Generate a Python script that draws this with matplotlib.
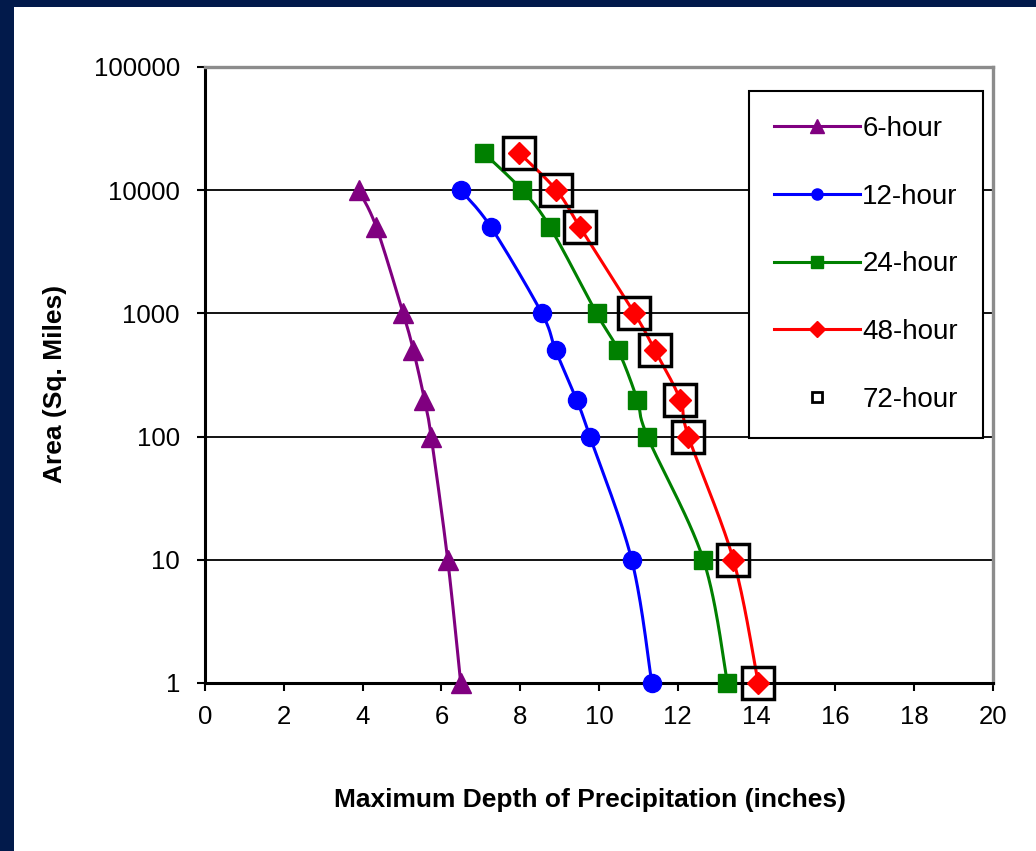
import numpy as np
import matplotlib
matplotlib.use("Agg")
import matplotlib.pyplot as plt
from matplotlib.lines import Line2D
from matplotlib.patches import Rectangle

plt.rcParams['font.family'] = ['Liberation Sans', 'DejaVu Sans']

# ---- data ----
areas_short = [10000, 5000, 1000, 500, 200, 100, 10, 1]
areas_long = [20000, 10000, 5000, 1000, 500, 200, 100, 10, 1]

depth_6h = [3.90, 4.35, 5.03, 5.29, 5.57, 5.74, 6.16, 6.49]
depth_12h = [6.49, 7.26, 8.55, 8.90, 9.43, 9.77, 10.83, 11.34]
depth_24h = [7.08, 8.05, 8.76, 9.94, 10.49, 10.97, 11.23, 12.65, 13.26]
depth_48h = [7.98, 8.92, 9.52, 10.90, 11.42, 12.06, 12.27, 13.41, 14.04]
depth_72h = [7.98, 8.92, 9.52, 10.90, 11.42, 12.06, 12.27, 13.41, 14.04]

labels = ['6-hour', '12-hour', '24-hour', '48-hour', '72-hour']
x_ticks = [0, 2, 4, 6, 8, 10, 12, 14, 16, 18, 20]
y_ticks = [1, 10, 100, 1000, 10000, 100000]
y_tick_labels = ['1', '10', '100', '1000', '10000', '100000']


def smooth_curve(xs, ys, n=30):
    """Catmull-Rom style smoothed path through the points (log-y space)."""
    px = np.asarray(xs, float) / 20.0
    py = np.log10(np.asarray(ys, float)) / 5.0
    pts = np.column_stack([px, py])
    m = len(pts)
    out = [pts[0]]
    for i in range(m - 1):
        p0 = pts[i - 1] if i > 0 else pts[i]
        p1 = pts[i]
        p2 = pts[i + 1]
        p3 = pts[i + 2] if i + 2 < m else pts[i + 1]
        c1 = p1 + (p2 - p0) / 6.0
        c2 = p2 - (p3 - p1) / 6.0
        t = np.linspace(0, 1, n)[1:, None]
        seg = ((1 - t) ** 3) * p1 + 3 * ((1 - t) ** 2) * t * c1 \
            + 3 * (1 - t) * t ** 2 * c2 + t ** 3 * p2
        out.extend(seg)
    out = np.array(out)
    return out[:, 0] * 20.0, 10 ** (out[:, 1] * 5.0)


fig = plt.figure(figsize=(10.36, 8.51), dpi=100)
fig.patch.set_facecolor('white')

# dark frame strips along the left and top edges
navy = '#021a4b'
fig.add_artist(Rectangle((0, 0), 14 / 1036, 1, transform=fig.transFigure,
                         facecolor=navy, edgecolor='none', zorder=0))
fig.add_artist(Rectangle((0, 1 - 7 / 851), 1, 7 / 851, transform=fig.transFigure,
                         facecolor=navy, edgecolor='none', zorder=0))

ax = fig.add_axes([205 / 1036, 1 - 683 / 851, 788 / 1036, 616 / 851])
ax.set_yscale('log')
ax.set_xlim(0, 20)
ax.set_ylim(1, 100000)

series = [
    (depth_6h, areas_short, '#800080', '^', 14),
    (depth_12h, areas_short, '#0000ff', 'o', 13),
    (depth_24h, areas_long, '#008000', 's', 13),
    (depth_48h, areas_long, '#ff0000', 'D', 11),
]
for xs, ys, col, mk, ms in series:
    sx, sy = smooth_curve(xs, ys)
    ax.plot(sx, sy, color=col, lw=2.2, zorder=3, clip_on=False)
    ax.plot(xs, ys, linestyle='none', marker=mk, ms=ms, color=col,
            markeredgecolor=col, zorder=4, clip_on=False)

ax.plot(depth_72h, areas_long, linestyle='none', marker='s', ms=22.5,
        markerfacecolor='none', markeredgecolor='black', mew=2.5,
        zorder=5, clip_on=False)

# grid and frame
ax.yaxis.grid(True, which='major', color='black', lw=1.3)
ax.set_axisbelow(True)
ax.minorticks_off()
ax.set_xticks(x_ticks)
ax.set_xticklabels([str(v) for v in x_ticks])
ax.set_yticks(y_ticks)
ax.set_yticklabels(y_tick_labels)
ax.tick_params(axis='both', which='major', direction='out', length=6, width=1.5,
               colors='black', labelsize=18.5)
ax.tick_params(axis='y', pad=12)
ax.tick_params(axis='x', pad=10)
for side in ('left', 'bottom'):
    ax.spines[side].set_color('black')
    ax.spines[side].set_linewidth(2.2)
for side in ('top', 'right'):
    ax.spines[side].set_color('#8c8c8c')
    ax.spines[side].set_linewidth(2.4)

# legend
handles = [
    Line2D([], [], color='#800080', lw=2.2, marker='^', ms=10),
    Line2D([], [], color='#0000ff', lw=2.2, marker='o', ms=8),
    Line2D([], [], color='#008000', lw=2.2, marker='s', ms=8),
    Line2D([], [], color='#ff0000', lw=2.2, marker='D', ms=8),
    Line2D([], [], linestyle='none', marker='s', ms=7, markerfacecolor='none',
           markeredgecolor='black', mew=2),
]
leg = ax.legend(handles, labels, loc='upper right',
                bbox_to_anchor=((983 - 205) / 788, (683 - 91) / 616),
                frameon=True, fancybox=False, framealpha=1, edgecolor='black',
                fontsize=20, handlelength=3.1, handletextpad=0.08,
                labelspacing=1.5, borderpad=0.9, borderaxespad=0)
leg.get_frame().set_linewidth(1.5)

fig.text(590 / 1036, 1 - 800 / 851, 'Maximum Depth of Precipitation (inches)',
         ha='center', va='center', fontsize=19, fontweight='bold')
fig.text(55 / 1036, 1 - 384 / 851, 'Area (Sq. Miles)', rotation=90,
         ha='center', va='center', fontsize=19, fontweight='bold')

fig.savefig('out.png', dpi=100, facecolor=fig.get_facecolor())
